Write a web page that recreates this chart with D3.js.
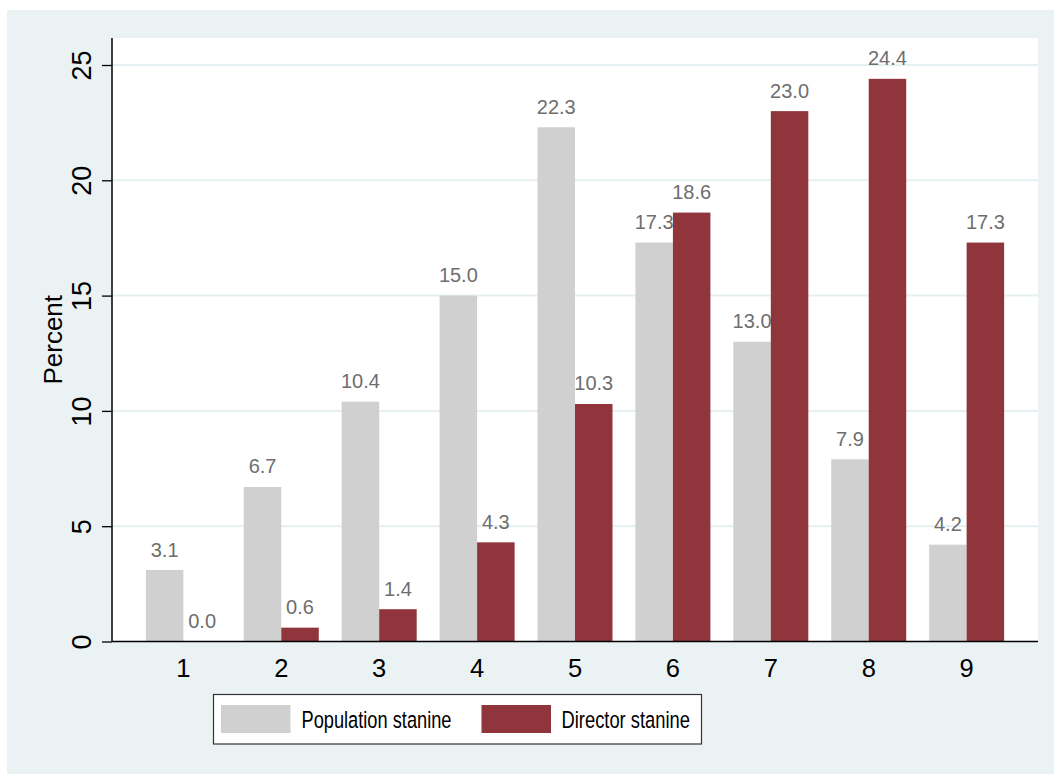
<!DOCTYPE html>
<html><head><meta charset="utf-8">
<script src="https://cdn.jsdelivr.net/npm/d3@7"></script>
<style>html,body{margin:0;padding:0;background:#fff;} text{font-family:"Liberation Sans",Arial,Helvetica,sans-serif;}</style>
</head><body>
<svg id="chart" width="1054" height="774"></svg>
<script>
const categories = ["1","2","3","4","5","6","7","8","9"];
const seriesNames = ["Population stanine","Director stanine"];
const populationValues = [3.1, 6.7, 10.4, 15.0, 22.3, 17.3, 13.0, 7.9, 4.2];
const directorValues = [0.0, 0.6, 1.4, 4.3, 10.3, 18.6, 23.0, 24.4, 17.3];
const yTicks = [0, 5, 10, 15, 20, 25];
const colors = ["#D0D0D0", "#90353B"];

const svg = d3.select("#chart");
const W = 1054, H = 774;
const plot = {left: 112, right: 1038, top: 38, bottom: 641.5};

svg.append("rect").attr("x", 7).attr("y", 10).attr("width", W - 7).attr("height", H - 10).attr("fill", "#EAF2F3");
svg.append("rect").attr("x", plot.left).attr("y", plot.top).attr("width", plot.right - plot.left).attr("height", plot.bottom - plot.top).attr("fill", "#fff");

const x = d3.scaleBand().domain(categories).range([plot.left, plot.right]).paddingInner(0.234).paddingOuter(0.346);
const xs = d3.scaleBand().domain(["pop","dir"]).range([0, x.bandwidth()]);
const y = d3.scaleLinear().domain([0, 25]).range([plot.bottom, 65]);

// gridlines
svg.append("g").selectAll("line").data(yTicks.filter(t => t > 0)).join("line")
  .attr("x1", plot.left).attr("x2", plot.right)
  .attr("y1", d => y(d)).attr("y2", d => y(d))
  .attr("stroke", "#E6EFF1").attr("stroke-width", 2);

const series = [
  {key: "pop", values: populationValues, color: colors[0]},
  {key: "dir", values: directorValues, color: colors[1]}
];
series.forEach(s => {
  const g = svg.append("g");
  g.selectAll("rect").data(s.values).join("rect")
    .attr("x", (d, i) => x(categories[i]) + xs(s.key))
    .attr("width", xs.bandwidth())
    .attr("y", d => y(d))
    .attr("height", d => y(0) - y(d))
    .attr("fill", s.color);
  g.selectAll("text").data(s.values).join("text")
    .attr("x", (d, i) => x(categories[i]) + xs(s.key) + xs.bandwidth() / 2)
    .attr("y", d => y(d) - 13.5)
    .attr("text-anchor", "middle")
    .attr("font-size", 20)
    .attr("fill", "#6E6E6E")
    .text(d => d.toFixed(1));
});

// y axis
const yAxis = d3.axisLeft(y).tickValues(yTicks).tickSize(10).tickPadding(0).tickFormat(d3.format("d"));
const ya = svg.append("g").attr("transform", `translate(${plot.left},0)`).call(yAxis);
ya.select(".domain").remove();
ya.selectAll(".tick line").attr("stroke", "#000").attr("stroke-width", 1.3);
ya.selectAll(".tick text").remove();
ya.selectAll(".tick").append("text")
  .attr("transform", "translate(-21,0) rotate(-90)")
  .attr("text-anchor", "middle")
  .attr("fill", "#000")
  .attr("font-size", 27)
  .text(d => d);
svg.append("line").attr("x1", plot.left).attr("x2", plot.left).attr("y1", plot.top).attr("y2", plot.bottom)
  .attr("stroke", "#000").attr("stroke-width", 1.5);

// x axis
const xAxis = d3.axisBottom(x).tickSize(0).tickPadding(0);
const xa = svg.append("g").attr("transform", `translate(0,${plot.bottom})`).call(xAxis);
xa.select(".domain").remove();
xa.selectAll(".tick text").attr("dy", null).attr("y", 35.5).attr("font-size", 25.5).attr("fill", "#000");
svg.append("line").attr("x1", plot.left).attr("x2", plot.right).attr("y1", plot.bottom).attr("y2", plot.bottom)
  .attr("stroke", "#000").attr("stroke-width", 1.5);

// y title
svg.append("text").attr("transform", `translate(61.5,${(plot.top + plot.bottom) / 2}) rotate(-90)`)
  .attr("text-anchor", "middle").attr("font-size", 26).attr("fill", "#000").text("Percent");

// legend
const lg = svg.append("g");
lg.append("rect").attr("x", 213.5).attr("y", 694.5).attr("width", 488).attr("height", 49.5)
  .attr("fill", "#fff").attr("stroke", "#333").attr("stroke-width", 1.2);
const legendItems = [
  {name: seriesNames[0], color: colors[0], sx: 221, tx: 301.5, tl: 150},
  {name: seriesNames[1], color: colors[1], sx: 481.5, tx: 561.5, tl: 128.5}
];
legendItems.forEach(it => {
  lg.append("rect").attr("x", it.sx).attr("y", 705).attr("width", 69.5).attr("height", 28).attr("fill", it.color);
  lg.append("text").attr("x", it.tx).attr("y", 727.5).attr("font-size", 24.5).attr("fill", "#000")
    .attr("textLength", it.tl).attr("lengthAdjust", "spacingAndGlyphs").text(it.name);
});
</script>
</body></html>
